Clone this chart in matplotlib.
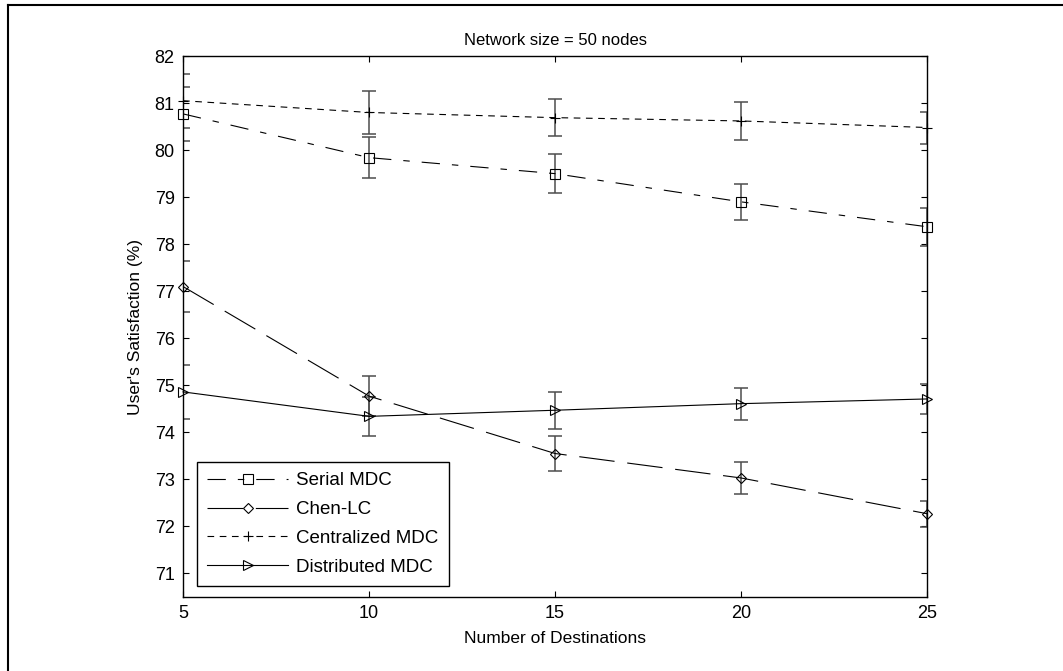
import matplotlib
matplotlib.use("Agg")
import matplotlib.pyplot as plt
from matplotlib.lines import Line2D

plt.rcParams["font.family"] = ["Liberation Sans", "DejaVu Sans"]

# number of destinations
dests = [5, 10, 15, 20, 25]

serial_mdc = [80.77, 79.84, 79.50, 78.90, 78.37]
serial_err = [0.57, 0.43, 0.41, 0.38, 0.40]

chen_lc = [77.10, 74.77, 73.55, 73.03, 72.27]
chen_err = [0.55, 0.43, 0.38, 0.34, 0.28]

central_mdc = [81.05, 80.80, 80.69, 80.62, 80.48]
central_err = [0.57, 0.45, 0.39, 0.40, 0.34]

distrib_mdc = [74.86, 74.34, 74.47, 74.61, 74.71]
distrib_err = [0.57, 0.42, 0.39, 0.34, 0.32]

labels = ["Serial MDC", "Chen-LC", "Centralized MDC", "Distributed MDC"]

fig = plt.figure(figsize=(10.63, 6.71), dpi=100)
ax = fig.add_axes([0.1722, 0.1103, 0.7000, 0.8062])

series = [
    (serial_mdc, serial_err, "s", (0, (16.5, 10.8, 5.8, 10.8))),
    (chen_lc, chen_err, "D", (0, (32, 11.5))),
    (central_mdc, central_err, "+", (0, (6, 5))),
    (distrib_mdc, distrib_err, ">", "-"),
]

for (vals, err, mk, ls), name in zip(series, labels):
    ax.errorbar(dests, vals, yerr=err, fmt="none", ecolor="#4d4d4d",
                elinewidth=1.1, capsize=5.2, capthick=1.1, zorder=2)
    ms = 5 if mk == "D" else 6.5
    ax.plot(dests, vals, color="black", linestyle=ls, linewidth=0.8,
            marker=mk, markersize=ms, markerfacecolor="none",
            markeredgecolor="black", markeredgewidth=0.8,
            label=name, clip_on=False, zorder=3)

ax.set_xlim(5, 25)
ax.set_ylim(70.5, 82)
ax.set_xticks(dests)
ax.set_yticks(range(71, 83))

ax.tick_params(direction="in", length=4.3, width=0.8, top=True, right=True,
               labelsize=13, pad=6)
for sp in ax.spines.values():
    sp.set_linewidth(1.0)

ax.set_title("Network size = 50 nodes", fontsize=12, pad=8)
ax.set_xlabel("Number of Destinations", fontsize=12.5, labelpad=6)
ax.set_ylabel("User's Satisfaction (%)", fontsize=12.5, labelpad=8)

leg = ax.legend(loc="lower left", bbox_to_anchor=(0.0188, 0.0203),
                borderaxespad=0, fontsize=13.5, handlelength=4.3,
                handletextpad=0.45, labelspacing=0.62, fancybox=False,
                framealpha=1, edgecolor="black", borderpad=0.55)
leg.get_frame().set_linewidth(1.0)

# outer frame of the figure (top and left edges)
fig.add_artist(Line2D([8 / 1063, 8 / 1063], [0, 1 - 5 / 671],
                      transform=fig.transFigure, color="black", lw=1.5))
fig.add_artist(Line2D([8 / 1063, 1], [1 - 5 / 671, 1 - 5 / 671],
                      transform=fig.transFigure, color="black", lw=1.5))

fig.savefig("out.png", dpi=100)
